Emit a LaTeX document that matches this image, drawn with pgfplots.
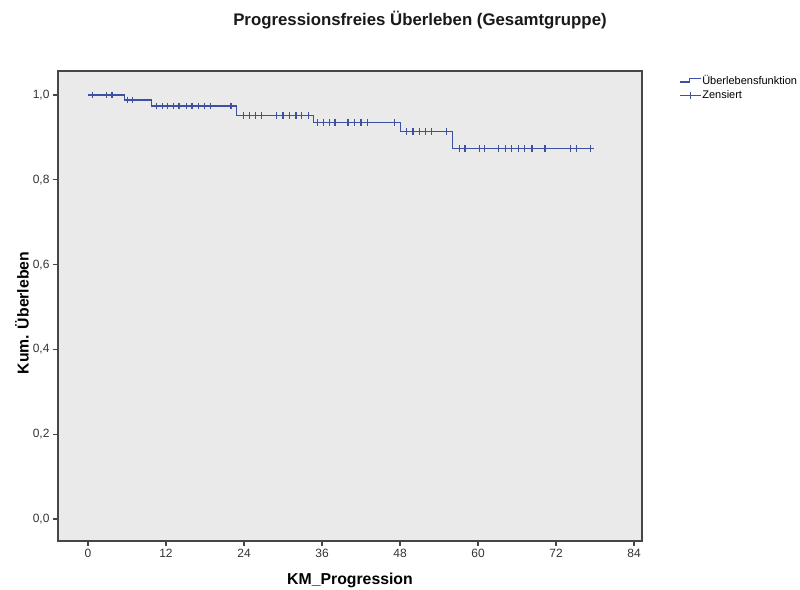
\documentclass[border=0pt]{standalone}
\usepackage{fontspec}
\setmainfont{Liberation Sans}
\usepackage{pgfplots}
\pgfplotsset{compat=1.18}
\definecolor{kmblue}{RGB}{62,80,160}
\definecolor{plotbg}{RGB}{234,234,234}
\definecolor{axgray}{RGB}{70,70,70}
\begin{document}
\begin{tikzpicture}
\useasboundingbox (0,0) rectangle (800bp,590bp);
\begin{axis}[
  at={(58bp,49bp)}, anchor=south west,
  scale only axis, width=584bp, height=470bp,
  xmin=-4.615, xmax=85.23, ymin=-0.0519, ymax=1.0566,
  axis background/.style={fill=plotbg},
  axis line style={axgray, line width=1.4bp},
  xtick={0,12,...,84}, ytick={0,0.2,...,1.0},
  xtick pos=bottom, ytick pos=left,
  tick align=outside, major tick length=5bp,
  tick style={axgray, line width=1.2bp},
  /pgf/number format/assume math mode=true,
  yticklabel style={/pgf/number format/.cd, fixed, fixed zerofill, precision=1, use comma},
  ticklabel style={font=\fontsize{12bp}{14bp}\selectfont, text=black!80},
  xlabel={KM\_Progression},
  ylabel={Kum. Überleben},
  label style={font=\fontsize{15.8bp}{18bp}\selectfont\bfseries},
  xlabel style={at={(axis description cs:0.5,-0.083)}, anchor=center},
  ylabel style={at={(axis description cs:-0.0616,0.485)}, anchor=center},
  legend style={at={(axis description cs:1,1)}, anchor=north west, xshift=34bp, yshift=-1bp,
    draw=none, fill=none, font=\fontsize{11bp}{12bp}\selectfont, row sep=2.5bp,
    nodes={inner sep=1bp}},
  legend cell align=left,
]
\addplot[draw=kmblue, line width=1.2bp, const plot,
  legend image code/.code={\draw[draw=kmblue, line width=1.1bp] (0bp,-1.5bp) -- (10bp,-1.5bp) -- (10bp,2bp) -- (21bp,2bp);}]
  coordinates {(0,1) (5.6,0.988) (9.8,0.974) (22.9,0.952) (34.7,0.935) (48.1,0.913) (56.1,0.874) (77.3,0.874)};
\addlegendentry{Überlebensfunktion}
\addplot[draw=kmblue, only marks, mark=+, mark size=3.4bp, line width=1.1bp,
  legend image code/.code={\draw[draw=kmblue, line width=1.1bp] (0bp,0bp) -- (21bp,0bp); \draw[draw=kmblue, line width=1.1bp] (10.5bp,-3.5bp) -- (10.5bp,3.5bp);}]
  coordinates {
  (0.7,1) (2.9,1) (3.7,1)
  (6.1,0.988) (6.9,0.988)
  (10.6,0.974) (11.4,0.974) (12.2,0.974) (13.1,0.974) (14.0,0.974) (15.1,0.974) (16.0,0.974) (17.0,0.974) (17.9,0.974) (18.8,0.974) (22.0,0.974)
  (23.9,0.952) (24.8,0.952) (25.7,0.952) (26.7,0.952) (29.0,0.952) (30.0,0.952) (31.0,0.952) (32.0,0.952) (32.9,0.952) (33.9,0.952)
  (35.3,0.935) (36.2,0.935) (37.1,0.935) (38.0,0.935) (40.0,0.935) (41.0,0.935) (42.0,0.935) (43.0,0.935) (47.1,0.935)
  (49.0,0.913) (50.0,0.913) (51.0,0.913) (51.9,0.913) (52.9,0.913) (55.1,0.913)
  (57.2,0.874) (58.0,0.874) (60.2,0.874) (61.0,0.874) (63.2,0.874) (64.2,0.874) (65.1,0.874) (66.2,0.874) (67.2,0.874) (68.3,0.874) (70.3,0.874) (74.2,0.874) (75.1,0.874) (77.3,0.874)
  };
\addlegendentry{Zensiert}
\end{axis}
\node[font=\fontsize{16.8bp}{19bp}\selectfont\bfseries, text=black!90] at (420bp,570bp) {Progressionsfreies Überleben (Gesamtgruppe)};
\end{tikzpicture}
\end{document}
